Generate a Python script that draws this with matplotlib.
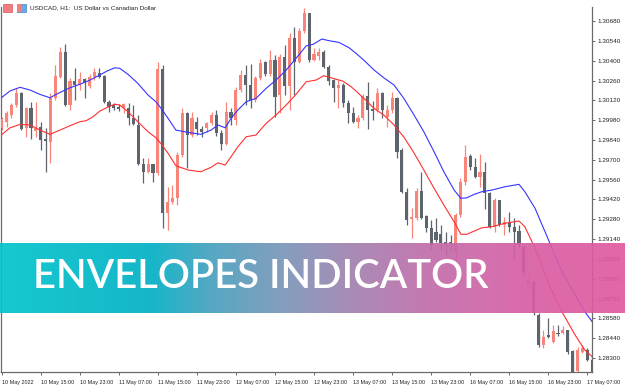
import numpy as np
import matplotlib
matplotlib.use("Agg")
import matplotlib.pyplot as plt
from matplotlib.patches import Rectangle
from matplotlib import font_manager

# ---------------- data ----------------
opens = [1.29924, 1.29967, 1.30016, 1.30087, 1.30171, 1.29924, 1.30066, 1.29903, 1.29931, 1.29847,
         1.29826, 1.30136, 1.30284, 1.30461, 1.30087, 1.30256, 1.30228, 1.30270, 1.30221, 1.30284,
         1.30313, 1.30291, 1.30108, 1.30087, 1.30073, 1.30066, 1.30066, 1.29995, 1.29946, 1.29670,
         1.29614, 1.29670, 1.29607, 1.30341, 1.29324, 1.29402, 1.29430, 1.29734, 1.30030, 1.29875,
         1.29967, 1.29917, 1.29924, 1.29960, 1.30016, 1.29889, 1.29812, 1.30037, 1.29981, 1.30193,
         1.30299, 1.30228, 1.30122, 1.30277, 1.30390, 1.30306, 1.30404, 1.30157, 1.30426, 1.30221,
         1.30560, 1.30390, 1.30609, 1.30736, 1.30404, 1.30433, 1.30461, 1.30355, 1.30263, 1.30207,
         1.30228, 1.30101, 1.30030, 1.29967, 1.29995, 1.30150, 1.30059, 1.30052, 1.30171, 1.30002,
         1.30052, 1.30136, 1.29769, 1.29473, 1.29282, 1.29289, 1.29480, 1.29303, 1.29218, 1.29190,
         1.29176, 1.29120, 1.29120, 1.29049, 1.29310, 1.29543, 1.29727, 1.29649, 1.29578, 1.29614,
         1.29466, 1.29226, 1.29416, 1.29240, 1.29261, 1.29226, 1.29197, 1.29084, 1.28823, 1.28837,
         1.28604, 1.28392, 1.28463, 1.28413, 1.28477, 1.28477, 1.28498, 1.28350, 1.28209, 1.28343,
         1.28357, 1.28287]
highs = [1.30002, 1.30044, 1.30101, 1.30207, 1.30178, 1.30073, 1.30108, 1.30108, 1.29967, 1.29924,
         1.30171, 1.30369, 1.30496, 1.30517, 1.30277, 1.30348, 1.30320, 1.30277, 1.30306, 1.30348,
         1.30348, 1.30299, 1.30122, 1.30101, 1.30094, 1.30101, 1.30101, 1.30087, 1.30016, 1.29713,
         1.29713, 1.29670, 1.30390, 1.30369, 1.29508, 1.29522, 1.29755, 1.30066, 1.30037, 1.30037,
         1.30002, 1.29938, 1.29967, 1.30037, 1.30052, 1.29910, 1.30108, 1.30066, 1.30214, 1.30334,
         1.30369, 1.30376, 1.30291, 1.30411, 1.30397, 1.30475, 1.30440, 1.30447, 1.30510, 1.30595,
         1.30637, 1.30630, 1.30772, 1.30736, 1.30489, 1.30489, 1.30475, 1.30369, 1.30270, 1.30263,
         1.30242, 1.30122, 1.30073, 1.30016, 1.30164, 1.30249, 1.30115, 1.30207, 1.30178, 1.30087,
         1.30178, 1.30143, 1.29783, 1.29501, 1.29360, 1.29501, 1.29614, 1.29310, 1.29275, 1.29289,
         1.29240, 1.29190, 1.29169, 1.29324, 1.29571, 1.29805, 1.29741, 1.29713, 1.29741, 1.29684,
         1.29473, 1.29430, 1.29416, 1.29296, 1.29331, 1.29289, 1.29240, 1.29098, 1.28887, 1.28851,
         1.28618, 1.28498, 1.28583, 1.28533, 1.28533, 1.28526, 1.28498, 1.28357, 1.28378, 1.28392,
         1.28371, 1.28301]
lows = [1.29910, 1.29931, 1.29995, 1.30073, 1.29910, 1.29861, 1.29847, 1.29861, 1.29769, 1.29614,
        1.29677, 1.30122, 1.30277, 1.30080, 1.30052, 1.30122, 1.30193, 1.30136, 1.30207, 1.30263,
        1.30277, 1.30101, 1.30037, 1.30052, 1.30044, 1.30030, 1.29946, 1.29946, 1.29663, 1.29536,
        1.29607, 1.29543, 1.29593, 1.29218, 1.29204, 1.29388, 1.29381, 1.29720, 1.29642, 1.29861,
        1.29875, 1.29861, 1.29896, 1.29946, 1.29868, 1.29769, 1.29805, 1.29946, 1.29946, 1.30178,
        1.30087, 1.30066, 1.30108, 1.30263, 1.30291, 1.30291, 1.30002, 1.30030, 1.30157, 1.30052,
        1.30157, 1.30383, 1.30595, 1.30390, 1.30397, 1.30404, 1.30348, 1.30228, 1.30108, 1.30066,
        1.30073, 1.29960, 1.29960, 1.29924, 1.29981, 1.29917, 1.29981, 1.30037, 1.29995, 1.29931,
        1.30030, 1.29713, 1.29466, 1.29240, 1.29148, 1.29275, 1.29282, 1.29190, 1.29063, 1.29120,
        1.29063, 1.29028, 1.29049, 1.28957, 1.29296, 1.29522, 1.29628, 1.29571, 1.29508, 1.29352,
        1.29218, 1.29190, 1.29233, 1.29169, 1.29190, 1.29007, 1.29077, 1.28887, 1.28781, 1.28604,
        1.28378, 1.28371, 1.28442, 1.28406, 1.28456, 1.28470, 1.28329, 1.28195, 1.28202, 1.28336,
        1.28280, 1.28195]
closes = [1.29988, 1.30030, 1.30087, 1.30171, 1.29917, 1.30066, 1.29924, 1.29924, 1.29840, 1.29833,
          1.30136, 1.30291, 1.30461, 1.30087, 1.30256, 1.30228, 1.30270, 1.30242, 1.30284, 1.30320,
          1.30284, 1.30108, 1.30073, 1.30066, 1.30059, 1.30094, 1.29995, 1.29953, 1.29670, 1.29614,
          1.29670, 1.29607, 1.30341, 1.29324, 1.29402, 1.29430, 1.29734, 1.30030, 1.29875, 1.29995,
          1.29917, 1.29896, 1.29960, 1.30016, 1.29889, 1.29812, 1.30037, 1.29995, 1.30193, 1.30299,
          1.30228, 1.30122, 1.30277, 1.30383, 1.30306, 1.30404, 1.30143, 1.30426, 1.30221, 1.30560,
          1.30390, 1.30609, 1.30736, 1.30404, 1.30447, 1.30461, 1.30355, 1.30256, 1.30207, 1.30228,
          1.30101, 1.30030, 1.29967, 1.29995, 1.30150, 1.30052, 1.30044, 1.30171, 1.30052, 1.30052,
          1.30136, 1.29755, 1.29473, 1.29275, 1.29296, 1.29480, 1.29289, 1.29218, 1.29098, 1.29134,
          1.29113, 1.29098, 1.29106, 1.29310, 1.29543, 1.29720, 1.29649, 1.29578, 1.29614, 1.29466,
          1.29226, 1.29416, 1.29240, 1.29261, 1.29226, 1.29190, 1.29098, 1.28908, 1.28851, 1.28618,
          1.28392, 1.28449, 1.28449, 1.28491, 1.28470, 1.28498, 1.28343, 1.28202, 1.28357, 1.28371,
          1.28287, 1.28202]

upper_pos = [0, 1.7, 3.75, 5.8, 7.85, 9.9, 10.9, 11.95, 14, 16, 18.1, 20.1, 21.6, 23.2, 24.2,
             25.9, 27.9, 30, 31.6, 32.6, 34.1, 35.7, 38.2, 40.8, 42.9, 44.3, 45.8, 47, 48.4,
             50.1, 52.1, 54.2, 56.2, 58.3, 60.3, 62.4, 63.8, 65.6, 67.1, 69.1, 71.2, 72.6,
             74.2, 76.3, 78.3, 80.4, 82.4, 84.5, 86.5, 88.6, 90.6, 92.7, 94.1, 95.3, 96.8,
             98.4, 100.5, 103.1, 106, 107.2, 109.3, 112.2, 114.8, 117.5, 119.5, 121]
upper_env = [1.30140, 1.30186, 1.30212, 1.30193, 1.30162, 1.30138, 1.30157, 1.30176, 1.30209, 1.30233,
             1.30263, 1.30299, 1.30327, 1.30350, 1.30346, 1.30303, 1.30240, 1.30157, 1.30110, 1.30066,
             1.29993, 1.29910, 1.29894, 1.29880, 1.29910, 1.29946, 1.29926, 1.29993, 1.30052, 1.30110,
             1.30134, 1.30205, 1.30263, 1.30334, 1.30416, 1.30505, 1.30515, 1.30553, 1.30541, 1.30529,
             1.30491, 1.30452, 1.30404, 1.30334, 1.30279, 1.30228, 1.30134, 1.30016, 1.29898, 1.29757,
             1.29616, 1.29487, 1.29428, 1.29432, 1.29456, 1.29475, 1.29487, 1.29510, 1.29527, 1.29475,
             1.29357, 1.29122, 1.28910, 1.28745, 1.28627, 1.28557]

lower_pos = [0, 1.7, 3.75, 5.8, 7.85, 9.9, 11.95, 14, 16, 17.3, 18.7, 20.1, 22.2, 23.2, 24.2,
             25.9, 27.9, 30, 31.6, 32.6, 34.1, 35.7, 38.2, 40.8, 42.9, 44.3, 45.8, 47, 48.4,
             50.1, 52.1, 54.2, 56.2, 58.3, 60.3, 62.4, 64.4, 66, 67.9, 69.9, 71.6, 72.6,
             74.2, 76.3, 78.3, 80.4, 82.4, 84.5, 86.5, 88.6, 90.6, 92.7, 94.1, 95.3, 96.8,
             98.4, 100.5, 103.1, 106, 107.2, 109.3, 112.2, 114.8, 117.5, 119.5, 121]
lower_env = [1.29878, 1.29926, 1.29950, 1.29946, 1.29910, 1.29880, 1.29910, 1.29941, 1.29969, 1.29976,
             1.30004, 1.30044, 1.30080, 1.30092, 1.30087, 1.30039, 1.29969, 1.29898, 1.29856, 1.29816,
             1.29746, 1.29658, 1.29628, 1.29616, 1.29647, 1.29679, 1.29663, 1.29722, 1.29792, 1.29863,
             1.29875, 1.29958, 1.30016, 1.30087, 1.30162, 1.30251, 1.30263, 1.30294, 1.30275, 1.30256,
             1.30216, 1.30186, 1.30134, 1.30063, 1.30016, 1.29946, 1.29861, 1.29748, 1.29628, 1.29499,
             1.29381, 1.29263, 1.29174, 1.29174, 1.29197, 1.29220, 1.29228, 1.29252, 1.29268, 1.29228,
             1.29075, 1.28816, 1.28627, 1.28463, 1.28357, 1.28310]

price_ticks = [1.28300, 1.28440, 1.28580, 1.28720, 1.28860, 1.29000, 1.29140, 1.29280, 1.29420,
               1.29560, 1.29700, 1.29840, 1.29980, 1.30120, 1.30260, 1.30400, 1.30540, 1.30680]
time_tick_bars = [0, 8, 16, 24, 32, 40, 48, 56, 64, 72, 80, 88, 96, 104, 112, 120]
time_tick_labels = ["10 May 2022", "10 May 15:00", "10 May 23:00", "11 May 07:00", "11 May 15:00",
                    "11 May 23:00", "12 May 07:00", "12 May 15:00", "12 May 23:00", "13 May 07:00",
                    "13 May 15:00", "13 May 23:00", "16 May 07:00", "16 May 15:00", "16 May 23:00",
                    "17 May 07:00"]
title_text = "USDCAD, H1:  US Dollar vs Canadian Dollar"
banner_text = "ENVELOPES INDICATOR"

# ---------------- fonts ----------------
names = {f.name for f in font_manager.fontManager.ttflist}
if "Liberation Sans Narrow" in names:
    small_font, small_size = "Liberation Sans Narrow", 4.9
else:
    small_font, small_size = "Liberation Sans", 3.9

# ---------------- figure ----------------
W, H = 625, 391
fig = plt.figure(figsize=(W / 100, H / 100), dpi=100)
fig.patch.set_facecolor("white")

ax = fig.add_axes([1 / W, 19 / H, 591 / W, 365 / H])
ax.set_facecolor("white")

bull = "#F8857A"
bear = "#5E646C"

o = np.array(opens); h = np.array(highs); l = np.array(lows); c = np.array(closes)
xs = np.arange(len(o))
cols = np.where(c >= o, bull, bear)

ax.vlines(xs, l, h, colors=cols, linewidth=0.9, zorder=2)
bottoms = np.minimum(o, c)
heights = np.maximum(np.abs(c - o), 0.00007)
ax.bar(xs, heights, bottom=bottoms, width=0.64, color=cols, edgecolor="none", zorder=3)

ax.plot(upper_pos, upper_env, color="#3535FF", linewidth=0.8, zorder=4)
ax.plot(lower_pos, lower_env, color="#FF2F2F", linewidth=0.8, zorder=4)

ax.set_xlim(-0.14, 120.96)
ax.set_ylim(1.28202, 1.30779)

ax.spines["top"].set_visible(False)
for s in ["left", "right", "bottom"]:
    ax.spines[s].set_color("#6A6A6A")
    ax.spines[s].set_linewidth(0.9)

ax.yaxis.tick_right()
ax.set_yticks(price_ticks)
ax.set_yticklabels([f"{p:.5f}" for p in price_ticks])
ax.tick_params(axis="y", direction="out", length=2.5, width=0.7, color="#6A6A6A",
               pad=1.2, labelsize=4.6, labelcolor="#222222")
ax.set_xticks(time_tick_bars)
ax.set_xticklabels(time_tick_labels)
ax.tick_params(axis="x", direction="out", length=2.5, width=0.7, color="#6A6A6A",
               pad=3.0, labelsize=small_size, labelcolor="#222222")
for t in ax.get_yticklabels():
    t.set_fontfamily("Liberation Sans")
for t in ax.get_xticklabels():
    t.set_fontfamily(small_font)
    t.set_horizontalalignment("left")

# title + icons
fig.patches.append(Rectangle((3 / W, 1 - 12 / H), 9 / W, 8 / H, transform=fig.transFigure,
                             facecolor="#F27C80", edgecolor="#E05560", linewidth=0.5))
fig.patches.append(Rectangle((17 / W, 1 - 12 / H), 9 / W, 8 / H, transform=fig.transFigure,
                             facecolor="#6BA9E0", edgecolor="#3F86C8", linewidth=0.5))
fig.patches.append(Rectangle((17 / W, 1 - 12 / H), 4 / W, 8 / H, transform=fig.transFigure,
                             facecolor="#F27C80", edgecolor="none"))
fig.text(30 / W, 1 - 8 / H, title_text, fontsize=4.6, family="Liberation Sans",
         color="#222222", va="center", ha="left")

# banner
bax = fig.add_axes([0, (H - 313) / H, 1, 70 / H])
bax.set_axis_off()
stops_x = [0, 150, 210, 280, 350, 420, 520, 625]
stops_c = np.array([[0, 196, 204], [0, 176, 196], [70, 160, 190], [120, 150, 185],
                    [160, 130, 175], [190, 110, 170], [215, 95, 165], [225, 88, 160]]) / 255.0
gx = np.arange(W)
grad = np.stack([np.interp(gx, stops_x, stops_c[:, k]) for k in range(3)], axis=-1)
bax.imshow(grad[np.newaxis, :, :], aspect="auto", extent=[0, 1, 0, 1], alpha=0.92)
bax.set_xlim(0, 1); bax.set_ylim(0, 1)
fig.text(261 / W, 1 - 277 / H, banner_text, fontsize=28.8, family="Lato", fontweight="semibold",
         color="white", ha="center", va="center")

fig.savefig("out.png", dpi=100)
